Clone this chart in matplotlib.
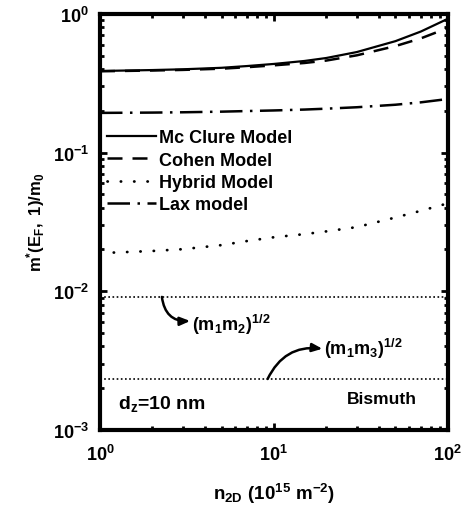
import numpy as np
import matplotlib
matplotlib.use("Agg")
import matplotlib.pyplot as plt
from matplotlib.ticker import LogLocator, NullFormatter

plt.rcParams["font.family"] = ["Liberation Sans", "DejaVu Sans"]
plt.rcParams["font.weight"] = "bold"
plt.rcParams["mathtext.fontset"] = "custom"
plt.rcParams["mathtext.rm"] = "Liberation Sans:bold"
plt.rcParams["mathtext.it"] = "Liberation Sans:bold"
plt.rcParams["mathtext.bf"] = "Liberation Sans:bold"
plt.rcParams["mathtext.default"] = "rm"
plt.rcParams["axes.unicode_minus"] = False

# carrier density n2D (10^15 m^-2)
n2d = [1, 2, 3, 5, 7, 10, 15, 20, 30, 50, 70, 100]
mcclure = [0.387, 0.393, 0.398, 0.408, 0.42, 0.435, 0.457, 0.48, 0.53, 0.635, 0.745, 0.92]
cohen = [0.385, 0.39, 0.394, 0.402, 0.412, 0.425, 0.442, 0.46, 0.502, 0.585, 0.665, 0.79]
lax = [0.193, 0.194, 0.195, 0.197, 0.199, 0.201, 0.204, 0.207, 0.212, 0.221, 0.23, 0.243]
hybrid_x = [1.2, 2, 3, 5, 7, 10, 15, 20, 30, 50, 70, 100]
hybrid = [0.019, 0.0195, 0.0201, 0.0215, 0.023, 0.0245, 0.0258, 0.027, 0.029, 0.034, 0.038, 0.043]

# geometric mean masses (horizontal reference lines)
m1m2 = 0.0091
m1m3 = 0.00233

fig = plt.figure(figsize=(4.65, 5.1), dpi=100)
ax = fig.add_axes([0.215, 0.155, 0.748, 0.816])

ax.plot(n2d, mcclure, color="black", lw=1.6, ls="-", label="Mc Clure Model")
ax.plot(n2d, cohen, color="black", lw=1.8, ls=(0, (6, 4)), label="Cohen Model")
ax.plot(hybrid_x, hybrid, color="black", lw=2.0, ls=(0, (0.1, 4.7)),
        dash_capstyle="round", label="Hybrid Model")
ax.plot(n2d, lax, color="black", lw=1.8, ls=(0, (9, 3, 1, 3)), label="Lax model")

ax.axhline(m1m2, color="black", lw=1.2, ls=(0, (1, 1.5)))
ax.axhline(m1m3, color="black", lw=1.2, ls=(0, (1, 1.5)))

arrow = dict(arrowstyle="-|>,head_length=0.6,head_width=0.25", color="black", lw=1.8,
             shrinkA=0, shrinkB=0)
ax.annotate("", xy=(3.3, 0.0061), xytext=(2.27, m1m2),
            arrowprops=dict(arrow, connectionstyle="arc3,rad=0.45"))
ax.text(3.4, 0.0058, r"$(m_1m_2)^{1/2}$", fontsize=13, ha="left", va="center")
ax.annotate("", xy=(19.0, 0.00385), xytext=(9.2, m1m3),
            arrowprops=dict(arrow, connectionstyle="arc3,rad=-0.35"))
ax.text(19.5, 0.0039, r"$(m_1m_3)^{1/2}$", fontsize=13, ha="left", va="center")

ax.text(0.052, 0.065, r"$d_z$=10 nm", transform=ax.transAxes, fontsize=14,
        ha="left", va="center")
ax.text(0.71, 0.075, "Bismuth", transform=ax.transAxes, fontsize=12.5,
        ha="left", va="center")

ax.set_xscale("log")
ax.set_yscale("log")
ax.set_xlim(1, 100)
ax.set_ylim(1e-3, 1)
ax.xaxis.set_minor_locator(LogLocator(base=10, subs=np.arange(2, 10)))
ax.yaxis.set_minor_locator(LogLocator(base=10, subs=np.arange(2, 10)))
ax.xaxis.set_minor_formatter(NullFormatter())
ax.yaxis.set_minor_formatter(NullFormatter())

ax.tick_params(which="both", direction="in", top=True, right=True, labelsize=13)
ax.tick_params(which="major", length=5, width=2)
ax.tick_params(which="minor", length=3, width=2)
ax.tick_params(axis="x", pad=10)
ax.tick_params(axis="y", pad=8)
for sp in ax.spines.values():
    sp.set_linewidth(3)

ax.set_xlabel(r"$n_{2D}\ (10^{15}\ m^{-2})$", fontsize=13.5, labelpad=12)
ax.set_ylabel(r"$m^{*}(E_F,\ 1)/m_0$", fontsize=12, labelpad=4)

ax.legend(loc="upper left", bbox_to_anchor=(0.0, 0.74), frameon=False, fontsize=13,
          handlelength=2.7, handletextpad=0.15, labelspacing=0.3, borderaxespad=0.3,
          borderpad=0.1)

fig.savefig("out.png", dpi=100)
